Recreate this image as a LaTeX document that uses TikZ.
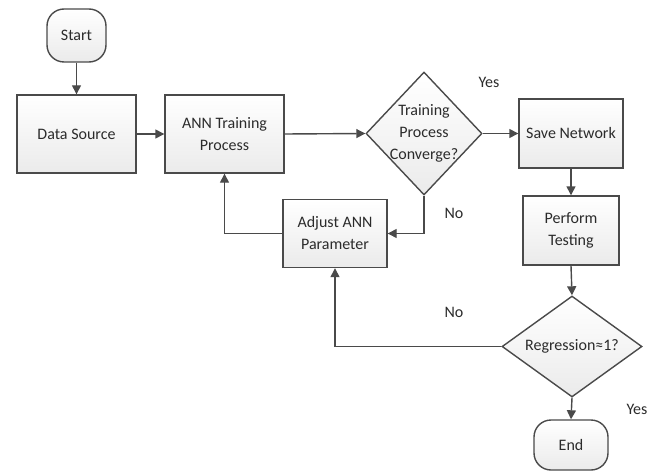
\documentclass[tikz,border=0pt]{standalone}
\usepackage{fontspec}
\setmainfont{Carlito}
\usetikzlibrary{shapes.geometric,arrows.meta}
\definecolor{edge}{HTML}{4A4A4A}
\definecolor{txt}{HTML}{2B2B2B}
\begin{document}
\begin{tikzpicture}[x=1pt,y=-1pt,
  font=\fontsize{16}{22}\selectfont, text=txt,
  shade base/.style={draw=edge, line width=1.4pt, top color=white, bottom color=gray!16, inner sep=0pt},
  box/.style={shade base, rectangle, align=center},
  term/.style={shade base, rectangle, rounded corners=17pt, align=center},
  dec/.style={shade base, diamond, shape aspect=1},
  lbl/.style={inner sep=0pt, align=center},
  conn/.style={draw=edge, line width=1.4pt, -{Triangle[length=9pt,width=9pt]}}]
\useasboundingbox (0,0) rectangle (663,473);

\node[term, minimum width=59pt, minimum height=53pt] (start) at (76.5,35.5) {Start};
\node[box, minimum width=119pt, minimum height=78pt] (ds) at (76.5,134) {Data Source};
\node[box, minimum width=119pt, minimum height=78pt] (ann) at (224.5,134) {ANN Training\\Process};
\node[dec, minimum width=116pt, minimum height=123pt] (d1) at (424,133.5) {};
\node[lbl] (d1t) at (d1.center) {Training\\Process\\Converge?};
\node[box, minimum width=104pt, minimum height=69pt] (save) at (571,133.5) {Save Network};
\node[box, minimum width=96pt, minimum height=69pt] (test) at (571,230.5) {Perform\\Testing};
\node[box, minimum width=104pt, minimum height=68pt] (adj) at (335,233.5) {Adjust ANN\\Parameter};
\node[dec, minimum width=140pt, minimum height=101pt] (d2) at (572,346.5) {};
\node[lbl] (d2t) at (d2.center) {Regression≈1?};
\node[term, minimum width=74pt, minimum height=50pt] (end) at (571,445) {End};

\node[lbl] (yes1) at (489,82) {Yes};
\node[lbl] (no1) at (454,213) {No};
\node[lbl] (no2) at (454,312) {No};
\node[lbl] (yes2) at (637,409) {Yes};

\draw[conn] (start.south) -- (ds.north);
\draw[conn] (ds.east) -- (ann.west);
\draw[conn] (ann.east) -- (d1.west);
\draw[conn] (d1.east) -- (save.west);
\draw[conn] (save.south) -- (test.north);
\draw[conn] (test.south) -- (d2.north);
\draw[conn] (d2.south) -- (end.north);
\draw[conn] (d1.south) |- (adj.east);
\draw[conn] (adj.west) -| (ann.south);
\draw[conn] (d2.west) -| (adj.south);
\end{tikzpicture}
\end{document}
